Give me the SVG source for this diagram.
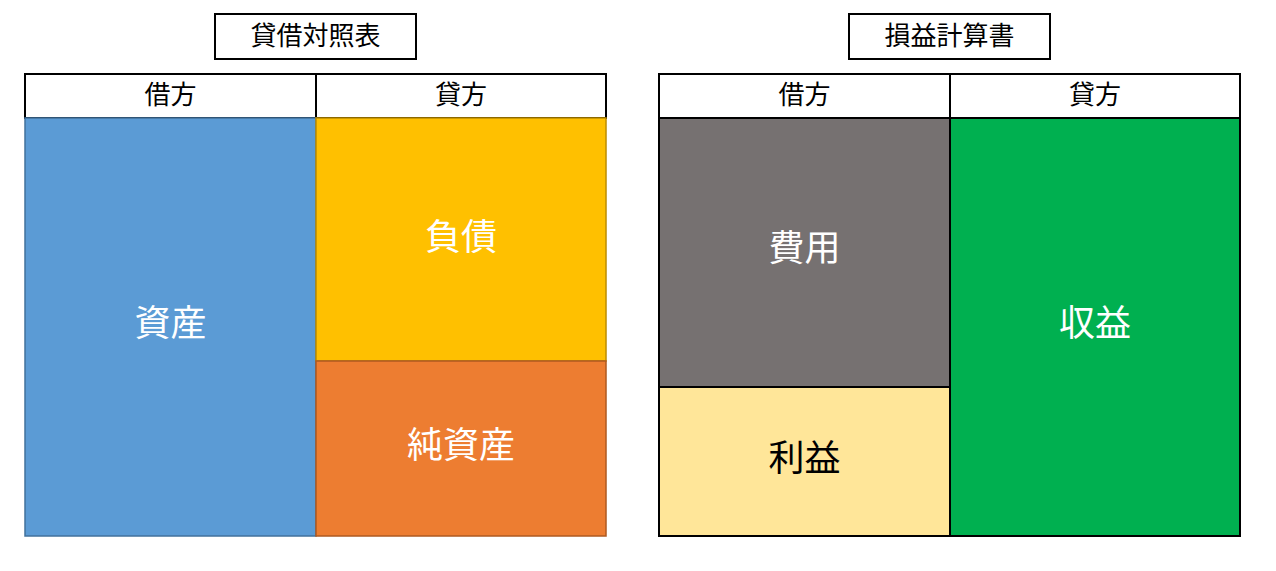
<svg xmlns="http://www.w3.org/2000/svg" width="1276" height="571" viewBox="0 0 1276 571">
<style>
text{font-family:"Noto Sans CJK JP","Noto Sans CJK SC",sans-serif;text-anchor:middle;dominant-baseline:central}
.t{font-size:26px;fill:#000}
.h{font-size:26px;fill:#000}
.b{font-size:36px;fill:#fff}
.bk{font-size:36px;fill:#000}
.box{fill:#fff;stroke:#000;stroke-width:2}
</style>
<rect width="1276" height="571" fill="#fff"/>
<g id="bs-title"><rect class="box" x="215" y="14" width="201" height="45"/><text class="t" x="315.5" y="33">貸借対照表</text></g>
<g id="bs-debit-header"><rect class="box" x="25" y="74" width="291" height="44"/><text class="h" x="170.5" y="92">借方</text></g>
<g id="bs-credit-header"><rect class="box" x="316" y="74" width="290" height="44"/><text class="h" x="461" y="92">貸方</text></g>
<g id="assets"><rect x="25" y="118" width="291" height="418" fill="#5B9BD5" stroke="#41719C" stroke-width="1.5"/><text class="b" x="170.5" y="320">資産</text></g>
<g id="liabilities"><rect x="316" y="118" width="290" height="243" fill="#FFC000" stroke="#BC8C00" stroke-width="1.5"/><text class="b" x="461" y="234">負債</text></g>
<g id="equity"><rect x="316" y="361" width="290" height="175" fill="#ED7D31" stroke="#AE5A21" stroke-width="1.5"/><text class="b" x="461" y="442">純資産</text></g>
<g id="pl-title"><rect class="box" x="849" y="14" width="201" height="45"/><text class="t" x="949.5" y="33">損益計算書</text></g>
<g id="pl-debit-header"><rect class="box" x="659" y="74" width="291" height="44"/><text class="h" x="804.5" y="92">借方</text></g>
<g id="pl-credit-header"><rect class="box" x="950" y="74" width="290" height="44"/><text class="h" x="1095" y="92">貸方</text></g>
<g id="expenses"><rect x="659" y="118" width="291" height="269" fill="#767171" stroke="#000" stroke-width="2"/><text class="b" x="804.5" y="245">費用</text></g>
<g id="profit"><rect x="659" y="387" width="291" height="149" fill="#FFE699" stroke="#000" stroke-width="2"/><text class="bk" x="804.5" y="455">利益</text></g>
<g id="revenue"><rect x="950" y="118" width="290" height="418" fill="#00B050" stroke="#000" stroke-width="2"/><text class="b" x="1095" y="320">収益</text></g>
<g id="connectors"></g>
</svg>
